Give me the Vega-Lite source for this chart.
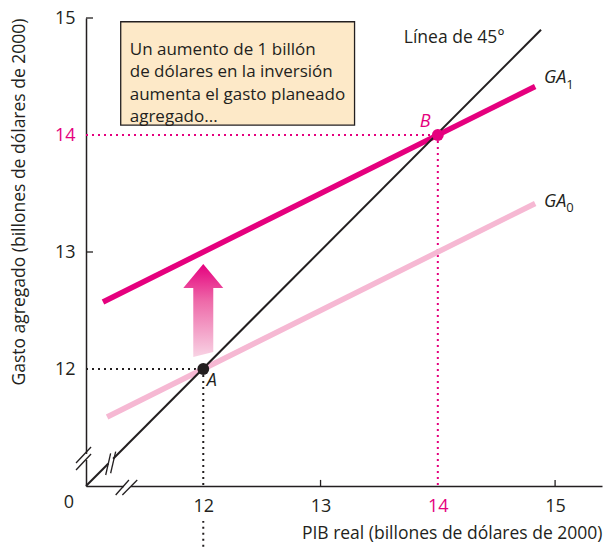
{
  "$schema": "https://vega.github.io/schema/vega-lite/v6.json",
  "width": 516,
  "height": 468,
  "autosize": {"type": "none"},
  "padding": {"left": 86, "top": 18, "right": 3, "bottom": 61},
  "background": "white",
  "config": {"view": {"stroke": null}, "font": "Open Sans"},
  "encoding": {
    "x": {"field": "x", "type": "quantitative",
      "scale": {"domain": [11, 15.4], "nice": false, "zero": false},
      "axis": {"values": [12, 13, 14, 15], "title": "PIB real (billones de dólares de 2000)", "titleAnchor": "end",
        "titleFontSize": 17.5, "titleFontWeight": "normal", "titleColor": "#231f20", "titlePadding": 9,
        "labelFontSize": 18, "labelColor": {"condition": {"test": "datum.value == 14", "value": "#e5007e"}, "value": "#231f20"},
        "ticks": false, "labelPadding": 11, "domainColor": "#231f20", "domainWidth": 1.5,
        "grid": false, "labelFlush": false, "labelOverlap": false}},
    "y": {"field": "y", "type": "quantitative",
      "scale": {"domain": [11, 15], "nice": false, "zero": false},
      "axis": {"values": [12, 13, 14, 15], "title": "Gasto agregado (billones de dólares de 2000)", "titleAnchor": "end",
        "titleFontSize": 17.5, "titleFontWeight": "normal", "titleColor": "#231f20", "titlePadding": 26,
        "labelFontSize": 18, "labelColor": {"condition": {"test": "datum.value == 14", "value": "#e5007e"}, "value": "#231f20"},
        "ticks": false, "labelPadding": 11, "domainColor": "#231f20", "domainWidth": 1.5,
        "grid": false, "labelOverlap": false}}
  },
  "layer": [
    {
      "data": {"values": [{"x": 11.296, "x2": 13.29, "y": 14.968, "y2": 14.085}]},
      "mark": {"type": "rect", "fill": "#fde9c8", "stroke": "#231f20", "strokeWidth": 1.3},
      "encoding": {"x2": {"field": "x2"}, "y2": {"field": "y2"}}
    },
    {
      "data": {"values": [{"x": 11.373, "y": 14.684, "text": ["Un aumento de 1 billón", "de dólares en la inversión", "aumenta el gasto planeado", "agregado..."]}]},
      "mark": {"type": "text", "align": "left", "baseline": "alphabetic", "fontSize": 17, "lineHeight": 22.3, "color": "#231f20"},
      "encoding": {"text": {"field": "text"}}
    },
    {
      "data": {"values": [
        {"x": 13, "y": 11, "x2": 13, "y2": 11.052},
        {"x": 15, "y": 11, "x2": 15, "y2": 11.052},
        {"x": 11, "y": 13, "x2": 11.06, "y2": 13},
        {"x": 11, "y": 15, "x2": 11.06, "y2": 15}
      ]},
      "mark": {"type": "rule", "color": "#231f20", "strokeWidth": 1.3},
      "encoding": {"x2": {"field": "x2"}, "y2": {"field": "y2"}}
    },
    {
      "data": {"values": [
        {"x": 11, "y": 12, "x2": 12, "y2": 12},
        {"x": 12, "y": 12, "x2": 12, "y2": 11},
        {"x": 12, "y": 10.48, "x2": 12, "y2": 10.7}
      ]},
      "mark": {"type": "rule", "color": "#231f20", "strokeWidth": 2, "strokeDash": [2, 4]},
      "encoding": {"x2": {"field": "x2"}, "y2": {"field": "y2"}}
    },
    {
      "data": {"values": [
        {"x": 11, "y": 14, "x2": 14, "y2": 14},
        {"x": 14, "y": 14, "x2": 14, "y2": 11}
      ]},
      "mark": {"type": "rule", "color": "#e5007e", "strokeWidth": 2, "strokeDash": [2, 4]},
      "encoding": {"x2": {"field": "x2"}, "y2": {"field": "y2"}}
    },
    {
      "data": {"values": [{"x": 11.18, "y": 11.59, "x2": 14.83, "y2": 13.415}]},
      "mark": {"type": "rule", "color": "#f6b8d3", "strokeWidth": 5.5},
      "encoding": {"x2": {"field": "x2"}, "y2": {"field": "y2"}}
    },
    {
      "data": {"values": [{"x": 11.145, "y": 12.5725, "x2": 14.83, "y2": 14.415}]},
      "mark": {"type": "rule", "color": "#e5007e", "strokeWidth": 5.5},
      "encoding": {"x2": {"field": "x2"}, "y2": {"field": "y2"}}
    },
    {
      "data": {"values": [{"x": 11, "y": 11, "x2": 14.88, "y2": 14.9}]},
      "mark": {"type": "rule", "color": "#231f20", "strokeWidth": 2},
      "encoding": {"x2": {"field": "x2"}, "y2": {"field": "y2"}}
    },
    {
      "data": {"values": [
        {"x": 11, "y": 11.222, "x2": 11, "y2": 11.274},
        {"x": 11.323, "y": 11, "x2": 11.384, "y2": 11},
        {"x": 11.19, "y": 11.19, "x2": 11.232, "y2": 11.232}
      ]},
      "mark": {"type": "rule", "color": "white", "strokeWidth": 5},
      "encoding": {"x2": {"field": "x2"}, "y2": {"field": "y2"}}
    },
    {
      "data": {"values": [
        {"x": 10.915, "y": 11.197, "x2": 11.043, "y2": 11.333},
        {"x": 10.915, "y": 11.137, "x2": 11.043, "y2": 11.274},
        {"x": 11.253, "y": 10.923, "x2": 11.366, "y2": 11.051},
        {"x": 11.31, "y": 10.923, "x2": 11.437, "y2": 11.051},
        {"x": 11.168, "y": 11.094, "x2": 11.21, "y2": 11.279},
        {"x": 11.21, "y": 11.109, "x2": 11.253, "y2": 11.293}
      ]},
      "mark": {"type": "rule", "color": "#231f20", "strokeWidth": 1.3},
      "encoding": {"x2": {"field": "x2"}, "y2": {"field": "y2"}}
    },
    {
      "data": {"values": [{"x": 12, "y": 12.5}]},
      "mark": {"type": "point", "filled": true, "opacity": 1, "size": 8649, "strokeWidth": 0,
        "shape": "M0,-1L0.43,-0.484L0.215,-0.484L0.215,0.89L-0.215,1L-0.215,-0.484L-0.43,-0.484Z",
        "fill": {"gradient": "linear", "x1": 0, "y1": 1, "x2": 0, "y2": 0,
          "stops": [{"offset": 0, "color": "#f8d3e4"}, {"offset": 0.6, "color": "#ee6aa9"}, {"offset": 1, "color": "#e5007e"}]}}
    },
    {
      "data": {"values": [{"x": 12, "y": 12}]},
      "mark": {"type": "point", "filled": true, "opacity": 1, "size": 140, "shape": "circle", "color": "#231f20"}
    },
    {
      "data": {"values": [{"x": 14, "y": 14}]},
      "mark": {"type": "point", "filled": true, "opacity": 1, "size": 140, "shape": "circle", "color": "#e5007e"}
    },
    {
      "data": {"values": [{"x": 13.71, "y": 14.83, "text": "Línea de 45°"}]},
      "mark": {"type": "text", "align": "left", "baseline": "middle", "fontSize": 17.5, "color": "#231f20"},
      "encoding": {"text": {"field": "text"}}
    },
    {
      "data": {"values": [
        {"x": 14.905, "y": 14.487, "text": "GA"},
        {"x": 14.905, "y": 13.43, "text": "GA"},
        {"x": 12.03, "y": 11.897, "text": "A"}
      ]},
      "mark": {"type": "text", "align": "left", "baseline": "middle", "fontSize": 18, "fontStyle": "italic", "color": "#231f20"},
      "encoding": {"text": {"field": "text"}}
    },
    {
      "data": {"values": [
        {"x": 15.095, "y": 14.43, "text": "1"},
        {"x": 15.095, "y": 13.378, "text": "0"}
      ]},
      "mark": {"type": "text", "align": "left", "baseline": "middle", "fontSize": 13, "color": "#231f20"},
      "encoding": {"text": {"field": "text"}}
    },
    {
      "data": {"values": [{"x": 13.893, "y": 14.107, "text": "B"}]},
      "mark": {"type": "text", "align": "center", "baseline": "middle", "fontSize": 18, "fontStyle": "italic", "color": "#e5007e"},
      "encoding": {"text": {"field": "text"}}
    },
    {
      "data": {"values": [{"x": 10.855, "y": 10.855, "text": "0"}]},
      "mark": {"type": "text", "align": "center", "baseline": "middle", "fontSize": 18, "color": "#231f20"},
      "encoding": {"text": {"field": "text"}}
    }
  ]
}
